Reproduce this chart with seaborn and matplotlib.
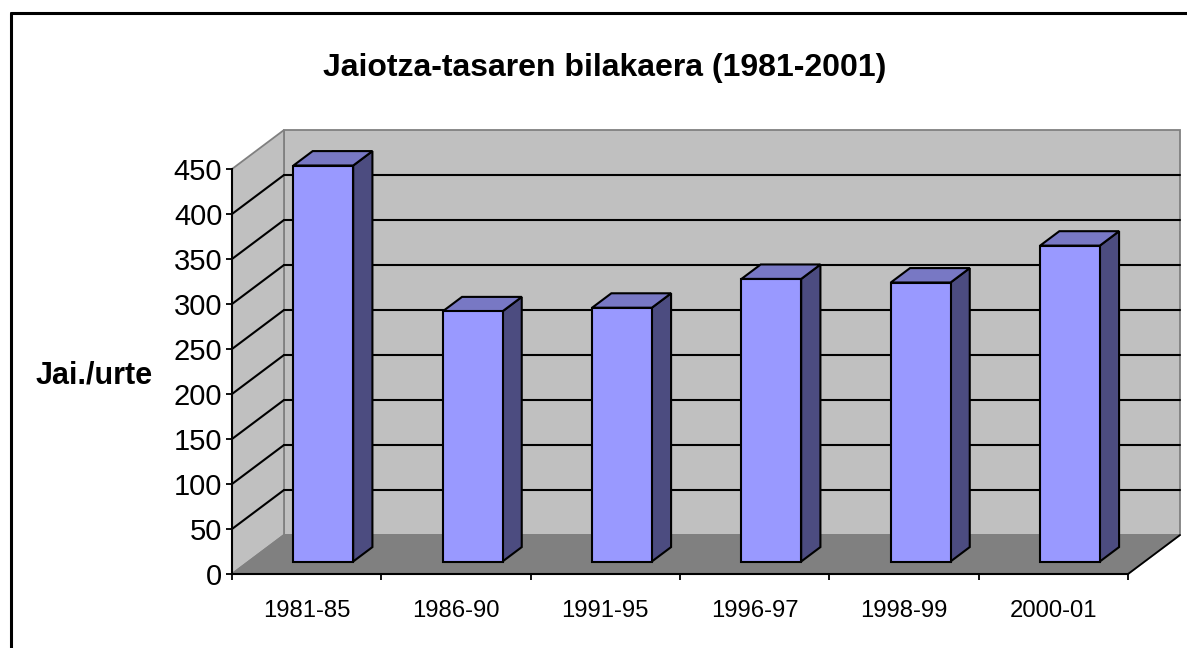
import matplotlib
matplotlib.use("Agg")
import matplotlib.pyplot as plt
import seaborn as sns
import numpy as np
from matplotlib.patches import Polygon
from matplotlib.lines import Line2D
from matplotlib.ticker import FixedLocator

# ---- data ----
categories = ["1981-85", "1986-90", "1991-95", "1996-97", "1998-99", "2000-01"]
values = [440, 278, 282, 314, 310, 351]
y_ticks = [0, 50, 100, 150, 200, 250, 300, 350, 400, 450]
title = "Jaiotza-tasaren bilakaera (1981-2001)"
y_label = "Jai./urte"

sns.set_style("white")
plt.rcParams['font.family'] = ['Liberation Sans', 'DejaVu Sans']
plt.rcParams['text.color'] = 'black'
plt.rcParams['axes.labelcolor'] = 'black'
plt.rcParams['xtick.color'] = 'black'
plt.rcParams['ytick.color'] = 'black'

W, H = 1187, 648
fig = plt.figure(figsize=(W / 100, H / 100), dpi=100)
ax = fig.add_axes([232 / W, (H - 574) / H, (1128 - 232) / W, (574 - 169) / H])

# 3D depth offsets in data units
px_x = (1128 - 232) / 6
px_y = (574 - 169) / 450
dX = 52 / px_x
dY = 39 / px_y
f0 = 0.32   # bar front depth fraction
fd = 0.37   # bar depth fraction

FRONT = "#9999FF"
TOP = "#7878C4"
SIDE = "#4C4C80"
WALL = "#C0C0C0"
FLOOR = "#808080"
EDGE = "#808080"

sns.barplot(x=categories, y=values, color=FRONT, saturation=1, width=0.4,
            edgecolor="black", linewidth=1.5, ax=ax, zorder=5)
bars = list(ax.patches)

ax.set_xlim(-0.5, 5.5)
ax.set_ylim(0, 450)
ymax = y_ticks[-1]

# walls and floor
back = Polygon([(-0.5 + dX, dY), (5.5 + dX, dY), (5.5 + dX, ymax + dY), (-0.5 + dX, ymax + dY)],
               closed=True, fc=WALL, ec=EDGE, lw=1.3, zorder=1, clip_on=False)
left = Polygon([(-0.5, 0), (-0.5 + dX, dY), (-0.5 + dX, ymax + dY), (-0.5, ymax)],
               closed=True, fc=WALL, ec=EDGE, lw=1.3, zorder=1, clip_on=False)
floor = Polygon([(-0.5, 0), (5.5, 0), (5.5 + dX, dY), (-0.5 + dX, dY)],
                closed=True, fc=FLOOR, ec=EDGE, lw=1.3, zorder=1.2, clip_on=False)
for p in (back, left, floor):
    ax.add_patch(p)
ax.plot([5.5, 5.5 + dX], [0, dY], color="black", lw=1.3, zorder=1.3, clip_on=False)

# gridlines
for v in y_ticks[1:-1]:
    ax.plot([-0.5 + dX, 5.5 + dX], [v + dY, v + dY], color="black", lw=1.5, zorder=2, clip_on=False)
    ax.plot([-0.5, -0.5 + dX], [v, v + dY], color="black", lw=1.5, zorder=2, clip_on=False)

# 3D bars
for p in bars:
    x0 = p.get_x() + f0 * dX
    y0 = f0 * dY
    w = p.get_width()
    h = p.get_height()
    p.set_xy((x0, y0))
    p.set_clip_on(False)
    side = Polygon([(x0 + w, y0), (x0 + w + fd * dX, y0 + fd * dY),
                    (x0 + w + fd * dX, y0 + h + fd * dY), (x0 + w, y0 + h)],
                   closed=True, fc=SIDE, ec="black", lw=1.5, zorder=4.5, clip_on=False)
    top = Polygon([(x0, y0 + h), (x0 + w, y0 + h), (x0 + w + fd * dX, y0 + h + fd * dY),
                   (x0 + fd * dX, y0 + h + fd * dY)],
                  closed=True, fc=TOP, ec="black", lw=1.5, zorder=4.5, clip_on=False)
    ax.add_patch(side)
    ax.add_patch(top)

# axes styling
for s in ("top", "right"):
    ax.spines[s].set_visible(False)
for s in ("left", "bottom"):
    ax.spines[s].set_color("black")
    ax.spines[s].set_linewidth(1.5)
    ax.spines[s].set_zorder(3)
ax.set_facecolor("none")
ax.set_yticks(y_ticks)
ax.set_yticklabels([str(t) for t in y_ticks], fontsize=21)
ax.tick_params(axis="y", direction="out", length=4, width=1.3, pad=3, left=True, colors="black")
ax.set_xticks(range(len(categories)))
ax.set_xticklabels(categories, fontsize=17.2)
ax.tick_params(axis="x", which="major", length=0, pad=19, colors="black")
ax.xaxis.set_minor_locator(FixedLocator(np.arange(-0.5, 6, 1.0)))
ax.tick_params(axis="x", which="minor", direction="out", length=4.5, width=1.3, bottom=True, color="black")
ax.set_xlabel("")
ax.set_ylabel("")

fig.text(605 / W, 1 - 68 / H, title, ha="center", va="center", fontsize=23, fontweight="bold", color="black")
fig.text(94 / W, 1 - 376 / H, y_label, ha="center", va="center", fontsize=22, fontweight="bold", color="black")

# outer frame (left and top visible)
fig.add_artist(Line2D([10.5 / W, 10.5 / W], [0, 1 - 13 / H], transform=fig.transFigure, color="black", lw=2.2))
fig.add_artist(Line2D([10.5 / W, 1], [1 - 13 / H, 1 - 13 / H], transform=fig.transFigure, color="black", lw=2.2))

fig.savefig("out.png", dpi=100, facecolor="white")
